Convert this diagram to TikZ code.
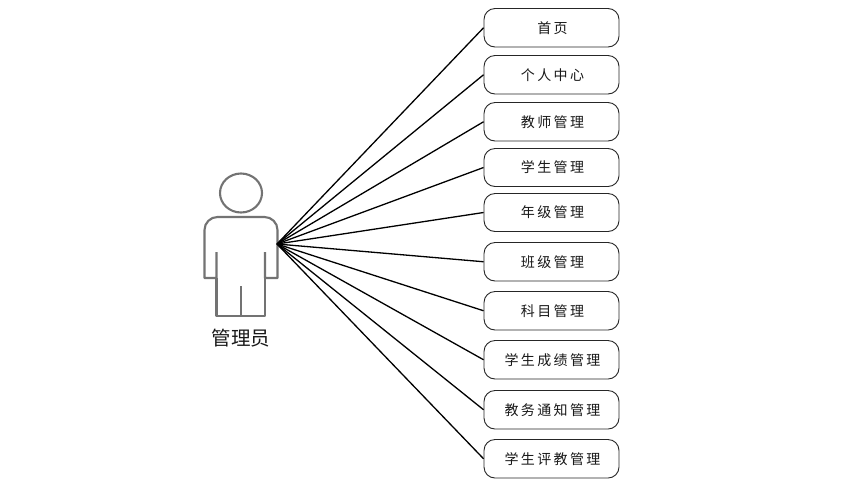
\documentclass[tikz,border=0pt]{standalone}
\usepackage{fontspec}
\newfontfamily\cjk[LetterSpace=17]{Noto Sans CJK SC}
\newfontfamily\cjkb{Noto Sans CJK SC}
\tikzset{x=1pt,y=-1pt,
 menubox/.style={draw=black!85,line width=0.9pt,rounded corners=11pt,minimum width=135pt,inner sep=0pt,font=\fontsize{14}{15}\cjk,text=black!90},
 link/.style={draw=black,line width=1.3pt},
 person/.style={draw=black!55,line width=2.1pt,line join=round}}
\begin{document}
\begin{tikzpicture}
\useasboundingbox (0,0) rectangle (858,483);
\fill[white] (0,0) rectangle (858,483);
\draw[person] (241,193) ellipse [x radius=21,y radius=19.5];
\draw[person] (216.5,252) -- (216.5,278) -- (204.5,278) -- (204.5,230) arc[start angle=180,end angle=90,x radius=13,y radius=-13] -- (264.5,217) arc[start angle=90,end angle=0,x radius=13,y radius=-13] -- (277.5,278) -- (265,278) -- (265,252);
\draw[person] (216.5,278) -- (216.5,316) -- (265,316) -- (265,278);
\draw[person] (241,286) -- (241,316);
\node[font=\fontsize{19.5}{21}\cjkb,text=black!90] (actor) at (241,338) {管理员};
\coordinate (hub) at (277,244);
\foreach \n/\top/\bot/\t in {a/8.5/47/首页,b/55.5/94/个人中心,c/102.5/141/教师管理,d/148.5/186.5/学生管理,e/193.5/231.5/年级管理,f/242.5/281/班级管理,g/291.5/330/科目管理,h/340.5/379/学生成绩管理,i/390.5/429/教务通知管理,j/439.5/478/学生评教管理}{
  \node[menubox,minimum height={\bot-\top}] (\n) at (551.5,{(\top+\bot)/2}) {\hspace*{2pt}\raisebox{-1pt}{\t}};
  \draw[link] (hub) -- (\n.west);
}
\end{tikzpicture}
\end{document}
